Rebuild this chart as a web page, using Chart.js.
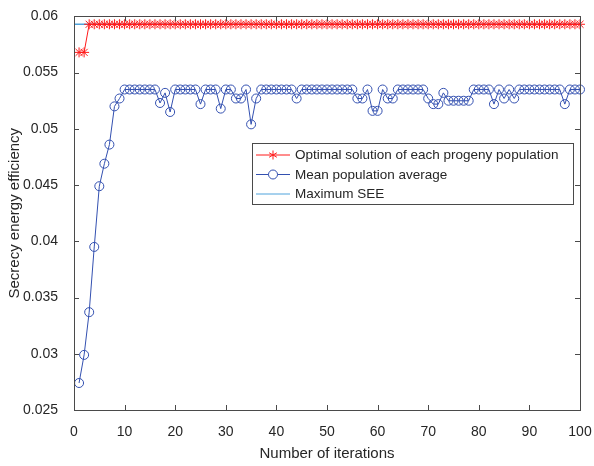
<!DOCTYPE html>
<html lang="en">

<head>
    <meta charset="UTF-8">
    <script src="https://cdn.jsdelivr.net/npm/chart.js@4.4.0/dist/chart.umd.min.js"></script>
    <title>SEE iterations</title>
    <style>
        html, body { margin: 0; padding: 0; background: #fff; }
        canvas { display: block; }
    </style>
</head>

<body>
    <canvas id="chart1" width="594" height="466"></canvas>

    <script>
        const iterations = [
            1, 2, 3, 4, 5, 6, 7, 8, 9, 10,
            11, 12, 13, 14, 15, 16, 17, 18, 19, 20,
            21, 22, 23, 24, 25, 26, 27, 28, 29, 30,
            31, 32, 33, 34, 35, 36, 37, 38, 39, 40,
            41, 42, 43, 44, 45, 46, 47, 48, 49, 50,
            51, 52, 53, 54, 55, 56, 57, 58, 59, 60,
            61, 62, 63, 64, 65, 66, 67, 68, 69, 70,
            71, 72, 73, 74, 75, 76, 77, 78, 79, 80,
            81, 82, 83, 84, 85, 86, 87, 88, 89, 90,
            91, 92, 93, 94, 95, 96, 97, 98, 99, 100
        ];
        const optimalSEE = [
            0.0568, 0.0568, 0.0593, 0.0593, 0.0593, 0.0593, 0.0593, 0.0593, 0.0593, 0.0593,
            0.0593, 0.0593, 0.0593, 0.0593, 0.0593, 0.0593, 0.0593, 0.0593, 0.0593, 0.0593,
            0.0593, 0.0593, 0.0593, 0.0593, 0.0593, 0.0593, 0.0593, 0.0593, 0.0593, 0.0593,
            0.0593, 0.0593, 0.0593, 0.0593, 0.0593, 0.0593, 0.0593, 0.0593, 0.0593, 0.0593,
            0.0593, 0.0593, 0.0593, 0.0593, 0.0593, 0.0593, 0.0593, 0.0593, 0.0593, 0.0593,
            0.0593, 0.0593, 0.0593, 0.0593, 0.0593, 0.0593, 0.0593, 0.0593, 0.0593, 0.0593,
            0.0593, 0.0593, 0.0593, 0.0593, 0.0593, 0.0593, 0.0593, 0.0593, 0.0593, 0.0593,
            0.0593, 0.0593, 0.0593, 0.0593, 0.0593, 0.0593, 0.0593, 0.0593, 0.0593, 0.0593,
            0.0593, 0.0593, 0.0593, 0.0593, 0.0593, 0.0593, 0.0593, 0.0593, 0.0593, 0.0593,
            0.0593, 0.0593, 0.0593, 0.0593, 0.0593, 0.0593, 0.0593, 0.0593, 0.0593, 0.0593
        ];
        const meanSEE = [
            0.0274, 0.0299, 0.0337, 0.0395, 0.0449, 0.0469, 0.0486, 0.0520, 0.0527, 0.0535,
            0.0535, 0.0535, 0.0535, 0.0535, 0.0535, 0.0535, 0.0523, 0.0532, 0.0515, 0.0535,
            0.0535, 0.0535, 0.0535, 0.0535, 0.0522, 0.0535, 0.0535, 0.0535, 0.0518, 0.0535,
            0.0535, 0.0527, 0.0527, 0.0535, 0.0504, 0.0527, 0.0535, 0.0535, 0.0535, 0.0535,
            0.0535, 0.0535, 0.0535, 0.0527, 0.0535, 0.0535, 0.0535, 0.0535, 0.0535, 0.0535,
            0.0535, 0.0535, 0.0535, 0.0535, 0.0535, 0.0527, 0.0527, 0.0535, 0.0516, 0.0516,
            0.0535, 0.0527, 0.0527, 0.0535, 0.0535, 0.0535, 0.0535, 0.0535, 0.0535, 0.0527,
            0.0522, 0.0522, 0.0532, 0.0525, 0.0525, 0.0525, 0.0525, 0.0525, 0.0535, 0.0535,
            0.0535, 0.0535, 0.0522, 0.0535, 0.0527, 0.0535, 0.0527, 0.0535, 0.0535, 0.0535,
            0.0535, 0.0535, 0.0535, 0.0535, 0.0535, 0.0535, 0.0522, 0.0535, 0.0535, 0.0535
        ];
        const maxX = [0, 100];
        const maxSEE = [0.0593, 0.0593];

        const xTicks = [0, 10, 20, 30, 40, 50, 60, 70, 80, 90, 100];
        const yTicks = [0.025, 0.03, 0.035, 0.04, 0.045, 0.05, 0.055, 0.06];
        const legendLabels = ['Optimal solution of each progeny population', 'Mean population average', 'Maximum SEE'];

        const RED = '#ff1a1a';
        const BLUE = '#3350b0';
        const CYAN = '#4ea3dc';
        const AXIS = '#4a4a4a';
        const TEXT = '#262626';
        const FONT = '"Liberation Sans", Arial, Helvetica, sans-serif';

        // matlab style box with inward ticks on all four sides
        const boxPlugin = {
            id: 'box',
            afterDatasetsDraw(chart) {
                const { ctx, chartArea: a, scales } = chart;
                const len = 5;
                ctx.save();
                ctx.strokeStyle = AXIS;
                ctx.lineWidth = 1;
                ctx.beginPath();
                xTicks.forEach(v => {
                    const px = Math.round(scales.x.getPixelForValue(v)) + 0.5;
                    ctx.moveTo(px, a.bottom); ctx.lineTo(px, a.bottom - len);
                    ctx.moveTo(px, a.top); ctx.lineTo(px, a.top + len);
                });
                yTicks.forEach(v => {
                    const py = Math.round(scales.y.getPixelForValue(v)) + 0.5;
                    ctx.moveTo(a.left, py); ctx.lineTo(a.left + len, py);
                    ctx.moveTo(a.right, py); ctx.lineTo(a.right - len, py);
                });
                ctx.stroke();
                ctx.strokeRect(Math.round(a.left) + 0.5, Math.round(a.top) + 0.5,
                    Math.round(a.right - a.left), Math.round(a.bottom - a.top));
                ctx.restore();
            },
            afterDraw(chart) {
                const ctx = chart.ctx;
                const bx = 252, by = 143, bw = 321, bh = 61;
                const rows = [155, 174.5, 194];
                ctx.save();
                ctx.fillStyle = '#fff';
                ctx.fillRect(bx, by, bw, bh);
                ctx.strokeStyle = AXIS;
                ctx.lineWidth = 1;
                ctx.strokeRect(bx + 0.5, by + 0.5, bw, bh);
                const colors = [RED, BLUE, CYAN];
                rows.forEach((ry, i) => {
                    ctx.strokeStyle = colors[i];
                    ctx.beginPath();
                    ctx.moveTo(256, ry); ctx.lineTo(290, ry);
                    ctx.stroke();
                    const mx = 273;
                    if (i === 0) {
                        ctx.beginPath();
                        const r = 4.5;
                        for (let k = 0; k < 3; k++) {
                            const ang = Math.PI / 2 + k * Math.PI / 3;
                            ctx.moveTo(mx + r * Math.cos(ang), ry + r * Math.sin(ang));
                            ctx.lineTo(mx - r * Math.cos(ang), ry - r * Math.sin(ang));
                        }
                        ctx.stroke();
                    } else if (i === 1) {
                        ctx.fillStyle = '#fff';
                        ctx.beginPath();
                        ctx.arc(mx, ry, 4.5, 0, Math.PI * 2);
                        ctx.fill();
                        ctx.stroke();
                    }
                    ctx.fillStyle = TEXT;
                    ctx.font = '13.5px ' + FONT;
                    ctx.textBaseline = 'middle';
                    ctx.fillText(legendLabels[i], 295, ry + 0.5);
                });
                ctx.restore();
            }
        };

        const ctx1 = document.getElementById('chart1').getContext('2d');
        const myChart1 = new Chart(ctx1, {
            type: 'line',
            data: {
                datasets: [{
                        label: legendLabels[0],
                        data: iterations.map((x, i) => ({ x: x, y: optimalSEE[i] })),
                        borderColor: RED,
                        backgroundColor: RED,
                        borderWidth: 1,
                        pointStyle: 'star',
                        pointRadius: 5,
                        pointBorderWidth: 1,
                        tension: 0,
                        clip: false,
                        order: 1
                    },
                    {
                        label: legendLabels[1],
                        data: iterations.map((x, i) => ({ x: x, y: meanSEE[i] })),
                        borderColor: BLUE,
                        backgroundColor: 'rgba(0,0,0,0)',
                        borderWidth: 1,
                        pointStyle: 'circle',
                        pointRadius: 4.5,
                        pointBorderWidth: 1,
                        tension: 0,
                        clip: false,
                        order: 2
                    },
                    {
                        label: legendLabels[2],
                        data: maxX.map((x, i) => ({ x: x, y: maxSEE[i] })),
                        borderColor: CYAN,
                        borderWidth: 1.5,
                        pointRadius: 0,
                        tension: 0,
                        order: 3
                    }
                ]
            },
            options: {
                responsive: false,
                animation: false,
                layout: { padding: { top: 13, right: 14, left: 0, bottom: 0 } },
                plugins: {
                    legend: { display: false },
                    tooltip: { enabled: false }
                },
                scales: {
                    x: {
                        type: 'linear',
                        min: 0,
                        max: 100,
                        afterFit: s => { s.height = 56; s.paddingLeft = 0; s.paddingRight = 0; },
                        afterBuildTicks: s => { s.ticks = xTicks.map(v => ({ value: v })); },
                        grid: { display: false },
                        border: { display: false },
                        ticks: {
                            padding: 6,
                            color: TEXT,
                            font: { family: FONT, size: 14 },
                            maxRotation: 0
                        },
                        title: {
                            display: true,
                            text: 'Number of iterations',
                            color: TEXT,
                            font: { family: FONT, size: 15 },
                            padding: { top: 0, bottom: 3 }
                        }
                    },
                    y: {
                        type: 'linear',
                        min: 0.025,
                        max: 0.06,
                        afterFit: s => { s.width = 74; },
                        afterBuildTicks: s => { s.ticks = yTicks.map(v => ({ value: v })); },
                        grid: { display: false },
                        border: { display: false },
                        ticks: {
                            padding: 8,
                            color: TEXT,
                            font: { family: FONT, size: 14 },
                            callback: v => String(+v.toFixed(3))
                        },
                        title: {
                            display: true,
                            text: 'Secrecy energy efficiency',
                            color: TEXT,
                            font: { family: FONT, size: 15 },
                            padding: { top: 6, bottom: 0 }
                        }
                    }
                }
            },
            plugins: [boxPlugin]
        });
    </script>
</body>

</html>
